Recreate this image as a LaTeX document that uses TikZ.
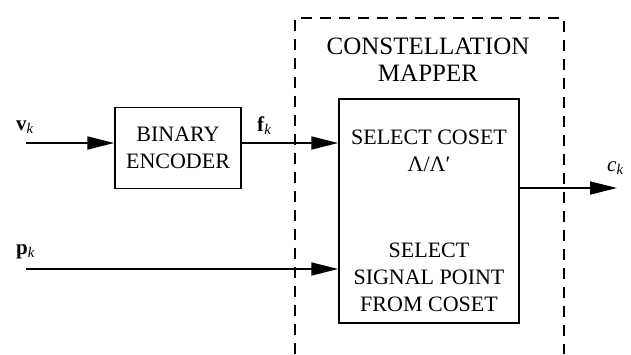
\documentclass[tikz,border=0pt]{standalone}
\usepackage{fontspec}
\setmainfont{Liberation Serif}
\usetikzlibrary{arrows.meta}
\usetikzlibrary{shapes,positioning}
\tikzset{>={Triangle[length=27pt,width=13pt]},
  blockbox/.style={draw,line width=1.5pt,inner sep=0pt,align=center},
  blocktext/.style={inner sep=0pt,align=center,font=\fontsize{22}{27}\selectfont},
  sigline/.style={line width=1.8pt},
  siglabel/.style={inner sep=0pt,anchor=base west,font=\fontsize{21}{21}\selectfont},
  mapperframe/.style={line width=1.5pt,dash pattern=on 11pt off 8pt}}

\begin{document}
\begin{tikzpicture}[x=1pt,y=-1pt]
  \useasboundingbox (0,0) rectangle (631,354);

  % dashed frame round the mapper, open at the bottom
  \draw [mapperframe] (295,354) -- (295,18) -- (564,18) -- (564,354);
  \node [blocktext,font=\fontsize{25}{27}\selectfont] (title) at (428,60) {CONSTELLATION\\MAPPER};

  % blocks
  \node [blockbox,blocktext,minimum width=126pt,minimum height=81pt] (enc) at (178,148) {BINARY\\ENCODER};
  \node [blockbox,minimum width=180pt,minimum height=224pt] (map) at (429,211) {};
  \node [blocktext] (coset) at (429,151) {SELECT COSET\\Λ/Λ′};
  \node [blocktext] (point) at (429,277) {SELECT\\SIGNAL POINT\\FROM COSET};

  % inputs and output
  \coordinate (vin) at (26,143);
  \coordinate (pin) at (26,269);
  \coordinate (cout) at (617,188);
  \draw [sigline,->] (vin) -- (vin -| enc.west);
  \draw [sigline,->] (enc.east |- vin) -- (vin -| map.west);
  \draw [sigline,->] (pin) -- (pin -| map.west);
  \draw [sigline,->] (map.east |- cout) -- (cout);

  \node [siglabel] (vk) at (16,130) {\textbf{v}\textsubscript{\textit{k}}};
  \node [siglabel] (fk) at (257,131) {\textbf{f}\textsubscript{\textit{k}}};
  \node [siglabel] (pk) at (16,254) {\textbf{p}\textsubscript{\textit{k}}};
  \node [siglabel] (ck) at (607,171) {\textit{c}\textsubscript{\textit{k}}};
\end{tikzpicture}
\end{document}
